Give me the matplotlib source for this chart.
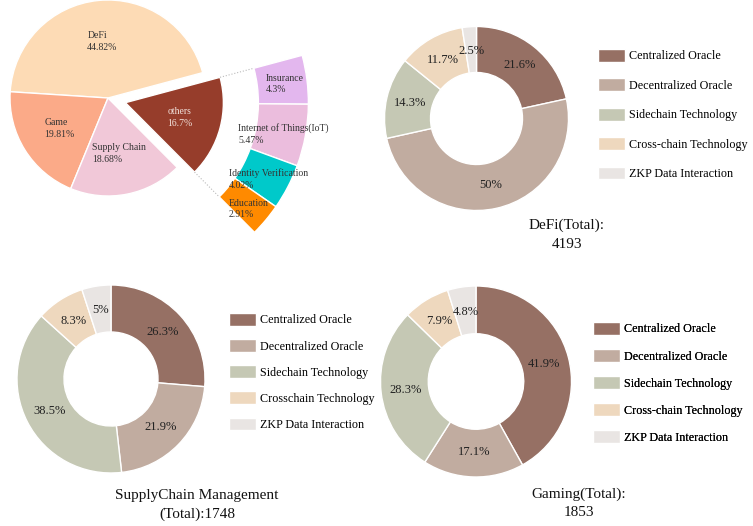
import numpy as np
import matplotlib.pyplot as plt

# top-left: sector share with "others" broken out
main_labels = ['DeFi', 'Game', 'Supply Chain', 'others']
main_values = [44.82, 19.81, 18.68, 16.7]
other_labels = ['Insurance', 'Internet of Things(IoT)', 'Identity Verification', 'Education']
other_values = [4.3, 5.47, 4.02, 2.91]

# donuts: technology split per sector
tech_labels = ['Centralized Oracle', 'Decentralized Oracle', 'Sidechain Technology',
               'Cross-chain Technology', 'ZKP Data Interaction']
supply_tech_labels = ['Centralized Oracle', 'Decentralized Oracle', 'Sidechain Technology',
                      'Crosschain Technology', 'ZKP Data Interaction']
defi_values = [21.6, 50, 14.3, 11.7, 2.5]
supply_values = [26.3, 21.9, 38.5, 8.3, 5]
gaming_values = [41.9, 17.1, 28.3, 7.9, 4.8]
defi_title = 'DeFi(Total):\n4193'
supply_title = 'SupplyChain Management\n(Total):1748'
gaming_title = 'Gaming(Total):\n1853'

main_colors = ['#FDDBB5', '#FBAA88', '#F1C8D8', '#963D2B']
ring_colors = ['#E3B7EE', '#EBBDDD', '#00C9CA', '#FF8A00']
tech_colors = ['#967064', '#C1ACA0', '#C5C8B4', '#EED8BE', '#E9E5E3']

W, H = 753, 526
SERIF = 'Liberation Serif'


def py(y):
    # pixel row (from top) -> data y
    return H - y


def donut(ax, values, labels, center, radius, legend_xy, spacing, title, title_xy):
    wedges, texts = ax.pie(values, labels=['{:g}%'.format(v) for v in values],
                           colors=tech_colors, center=center, radius=radius,
                           startangle=90, counterclock=False, labeldistance=0.74,
                           wedgeprops=dict(width=radius * 0.5, edgecolor='white', linewidth=1),
                           textprops=dict(fontsize=9, color='#222222', family=SERIF))
    for t in texts:
        t.set_ha('center')
    leg = ax.legend(wedges, labels, loc='upper left', bbox_to_anchor=legend_xy,
                    bbox_transform=ax.transData, frameon=False,
                    prop=dict(family=SERIF, size=8.7), handlelength=2.25, handleheight=1.25,
                    labelspacing=spacing, handletextpad=0.35, borderpad=0, borderaxespad=0)
    ax.add_artist(leg)
    ax.text(title_xy[0], title_xy[1], title, ha='center', va='center', linespacing=1.55,
            fontsize=11, family=SERIF, color='#111111')


fig = plt.figure(figsize=(W / 100, H / 100), dpi=100)
ax = fig.add_axes([0, 0, 1, 1])

# main pie, "others" pulled out
main_texts = ['{}\n{:g}%'.format(n, v) for n, v in zip(main_labels, main_values)]
wedges, texts = ax.pie(main_values, labels=main_texts, colors=main_colors,
                       center=(108, py(98)), radius=98, startangle=15,
                       explode=[0, 0, 0, 18], labeldistance=0.58,
                       wedgeprops=dict(edgecolor='white', linewidth=1),
                       textprops=dict(fontsize=7, family=SERIF, color='#333333',
                                      linespacing=1.4))
for t in texts:
    t.set_ha('center')
    t.set_multialignment('left')
texts[-1].set_color('#F2E2DC')

# breakdown ring of "others", same centre and angles as the exploded wedge
others = wedges[-1]
cx, cy = others.center
r_in, r_out = 133, 183
ring, _ = ax.pie(np.array(other_values) / 100, normalize=False, colors=ring_colors,
                 center=(cx, cy), radius=r_out, startangle=others.theta2, counterclock=False,
                 wedgeprops=dict(width=r_out - r_in, edgecolor='white', linewidth=1))

for ang in (others.theta1, others.theta2):
    a = np.deg2rad(ang)
    ax.plot([cx + others.r * np.cos(a), cx + r_in * np.cos(a)],
            [cy + others.r * np.sin(a), cy + r_in * np.sin(a)],
            color='#BBBBBB', ls=':', lw=0.8)

ring_text_xy = [(266, 84), (238, 134), (229, 179), (229, 209)]
for (x, y), n, v in zip(ring_text_xy, other_labels, other_values):
    ax.text(x, py(y), '{}\n{:g}%'.format(n, v), ha='left', va='center', linespacing=1.4,
            fontsize=7, family=SERIF, color='#333333')

donut(ax, defi_values, tech_labels, (476.5, py(118.5)), 92,
      (598, py(49)), 1.32, defi_title, (567, py(235)))
donut(ax, supply_values, supply_tech_labels, (111, py(379)), 94,
      (229, py(313)), 1.05, supply_title, (197, py(505)))
donut(ax, gaming_values, tech_labels, (476, py(381.5)), 95.5,
      (593, py(322)), 1.13, gaming_title, (579, py(503.5)))

ax.set_xlim(0, W)
ax.set_ylim(0, H)
ax.set_aspect('equal')
ax.axis('off')

fig.savefig('out.png', dpi=100)
